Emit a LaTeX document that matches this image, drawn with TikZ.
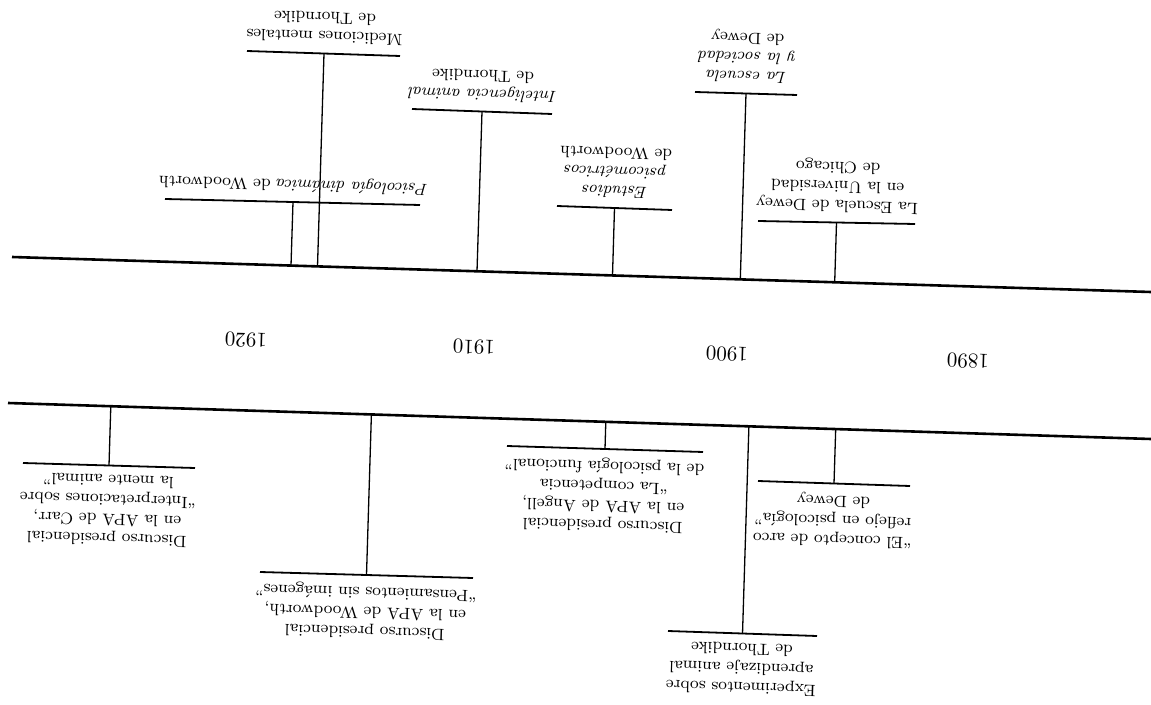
\documentclass[tikz,border=0pt]{standalone}
\usepackage{amsmath}
\usepackage{xcolor}
\begin{document}
\begin{tikzpicture}[x=0.5pt,y=0.5pt]
\tikzstyle{every node}+=[inner sep=0pt]
\tikzstyle{axis}=[black, line width=1.3pt]
\tikzstyle{bar}=[black, line width=0.9pt]
\tikzstyle{tick}=[black, line width=0.65pt]
\tikzstyle{upper}=[rotate=178.24, align=center, font=\fontsize{8.2}{9.6}\selectfont, anchor=north, inner ysep=5pt]
\tikzstyle{lower}=[rotate=178.24, align=center, font=\fontsize{8.2}{9.8}\selectfont, anchor=south, inner ysep=4.5pt]
\tikzstyle{year}=[rotate=178.24, font=\fontsize{10.5}{12}\selectfont]
\useasboundingbox (0,0) rectangle (1151,-705);
\coordinate (axTl) at (12,-257);
\coordinate (axTr) at (1151,-292);
\coordinate (axBl) at (8,-403);
\coordinate (axBr) at (1151,-439);
\draw [axis] (axTl) -- (axTr);
\draw [axis] (axBl) -- (axBr);
\node [year] (y1920) at (246,-340) {1920};
\node [year] (y1910) at (474,-347) {1910};
\node [year] (y1900) at (727,-354) {1900};
\node [year] (y1890) at (968,-361) {1890};
\coordinate (medT) at (317.5,-266.4);
\coordinate (medB) at (324,-53.5);
\draw [bar] (247,-51) -- (400,-56);
\draw [tick] (medT) -- (medB);
\node [upper] (med) at (medB) {Mediciones mentales\\de Thorndike};
\coordinate (psiT) at (291,-265.6);
\coordinate (psiB) at (293,-202);
\draw [bar] (165,-199) -- (420,-205);
\draw [tick] (psiT) -- (psiB);
\node [upper] (psi) at (psiB) {\textit{Psicología dinámica} de Woodworth};
\coordinate (intT) at (477,-271.3);
\coordinate (intB) at (482,-111.5);
\draw [bar] (412,-109) -- (552,-114);
\draw [tick] (intT) -- (intB);
\node [upper] (int) at (intB) {\textit{Inteligencia animal}\\de Thorndike};
\coordinate (estT) at (612.5,-275.5);
\coordinate (estB) at (614.5,-208);
\draw [bar] (557,-206) -- (672,-210);
\draw [tick] (estT) -- (estB);
\node [upper] (est) at (estB) {\textit{Estudios}\\\textit{psicométricos}\\de Woodworth};
\coordinate (escT) at (740.3,-279.4);
\coordinate (escB) at (746,-93.5);
\draw [bar] (695,-92) -- (797,-95);
\draw [tick] (escT) -- (escB);
\node [upper] (esc) at (escB) {\textit{La escuela}\\\textit{y la sociedad}\\de Dewey};
\coordinate (chiT) at (834.7,-282.3);
\coordinate (chiB) at (836.5,-222.5);
\draw [bar] (758,-221) -- (915,-224);
\draw [tick] (chiT) -- (chiB);
\node [upper] (chi) at (chiB) {La Escuela de Dewey\\en la Universidad\\de Chicago};
\coordinate (carT) at (110.8,-406.2);
\coordinate (carB) at (109,-465.5);
\draw [bar] (23,-463) -- (195,-468);
\draw [tick] (carT) -- (carB);
\node [lower] (car) at (carB) {Discurso presidencial\\en la APA de Carr,\\“Interpretaciones sobre\\la mente animal”};
\coordinate (wooT) at (371.4,-414.4);
\coordinate (wooB) at (366.5,-575);
\draw [bar] (260,-572) -- (473,-578);
\draw [tick] (wooT) -- (wooB);
\node [lower] (woo) at (wooB) {Discurso presidencial\\en la APA de Woodworth,\\“Pensamientos sin imágenes”};
\coordinate (angT) at (605.8,-421.8);
\coordinate (angB) at (605,-449);
\draw [bar] (507,-446) -- (703,-452);
\draw [tick] (angT) -- (angB);
\node [lower] (ang) at (angB) {Discurso presidencial\\en la APA de Angell,\\“La competencia\\de la psicología funcional”};
\coordinate (thoT) at (748.9,-426.3);
\coordinate (thoB) at (742.5,-634);
\draw [bar] (668,-631) -- (817,-636);
\draw [tick] (thoT) -- (thoB);
\node [lower] (tho) at (thoB) {Experimentos sobre\\aprendizaje animal\\de Thorndike};
\coordinate (arcT) at (835.7,-429.1);
\coordinate (arcB) at (834,-483.5);
\draw [bar] (758,-481) -- (910,-486);
\draw [tick] (arcT) -- (arcB);
\node [lower] (arc) at (arcB) {“El concepto de arco\\reflejo en psicología”\\de Dewey};
\end{tikzpicture}
\end{document}
